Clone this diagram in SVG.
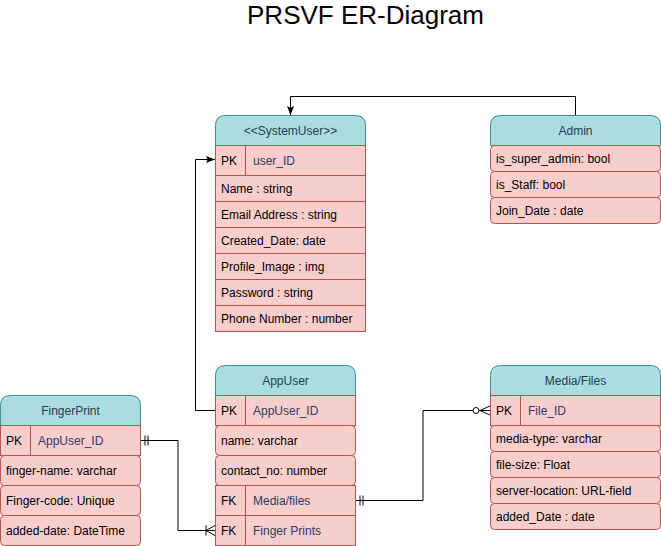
<svg xmlns="http://www.w3.org/2000/svg" width="661" height="546" viewBox="0 0 661 546">
<style>
text{font-family:"Liberation Sans",Arial,Helvetica,sans-serif;font-size:12px;fill:#000}
.title{font-size:26px;text-anchor:middle}
.hd{fill:#abdcdf;stroke:#3f8d95;stroke-width:1}
.ht{text-anchor:middle;fill:#1e3d59}
.row{fill:#f8cecc;stroke:#b85450;stroke-width:1}
.kv{fill:#2e3a66}
.div{stroke:#b85450;stroke-width:1}
.ln{fill:none;stroke:#000;stroke-width:1}
</style>
<defs>
<marker id="arrow" viewBox="0 0 10 10" refX="10" refY="5" markerWidth="9" markerHeight="9" markerUnits="userSpaceOnUse" orient="auto">
<path d="M0,1 L10,5 L0,9 L2,5 Z" fill="#000"/>
</marker>
<marker id="one" viewBox="0 0 12 12" refX="12" refY="6" markerWidth="12" markerHeight="12" markerUnits="userSpaceOnUse" orient="auto-start-reverse">
<path d="M7,1 V11 M4,1 V11" stroke="#000" stroke-width="1" fill="none"/>
</marker>
<marker id="many" viewBox="0 0 12 12" refX="12" refY="6" markerWidth="12" markerHeight="12" markerUnits="userSpaceOnUse" orient="auto-start-reverse">
<path d="M3,1 V11 M3,6 L12,1 M3,6 L12,11" stroke="#000" stroke-width="1" fill="none"/>
</marker>
<marker id="zeroMany" viewBox="0 0 20 12" refX="20" refY="6" markerWidth="20" markerHeight="12" markerUnits="userSpaceOnUse" orient="auto-start-reverse">
<circle cx="6" cy="6" r="3" fill="#fff" stroke="#000" stroke-width="1"/>
<path d="M10,6 L20,1.5 M10,6 L20,10.5" stroke="#000" stroke-width="1" fill="none"/>
</marker>
</defs>
<rect width="661" height="546" fill="#fff"/>
<text class="title" x="365.5" y="24">PRSVF ER-Diagram</text>

<g id="connectors">
<path class="ln" d="M575.5,115 V96.5 H290.5 V115" marker-end="url(#arrow)"/>
<path class="ln" d="M215,410.5 H195.5 V159.5 H215" marker-end="url(#arrow)"/>
<path class="ln" d="M140,440.5 H178 V530.5 H215" marker-start="url(#one)" marker-end="url(#many)"/>
<path class="ln" d="M355,500.5 H423 V410.5 H490" marker-start="url(#one)" marker-end="url(#zeroMany)"/>
</g>

<g id="SystemUser">
<path class="hd" d="M215.5,145.5 V125.5 Q215.5,115.5 225.5,115.5 H355.5 Q365.5,115.5 365.5,125.5 V145.5 Z"/>
<text class="ht" x="290.5" y="135">&lt;&lt;SystemUser&gt;&gt;</text>
<rect class="row" x="215.5" y="145.5" width="150" height="30"/>
<line class="div" x1="245.5" y1="145.5" x2="245.5" y2="175.5"/>
<text x="221" y="165">PK</text>
<text class="kv" x="253" y="165">user_ID</text>
<rect class="row" x="215.5" y="175.5" width="150" height="26"/>
<text x="221" y="193">Name : string</text>
<rect class="row" x="215.5" y="201.5" width="150" height="26"/>
<text x="221" y="219">Email Address : string</text>
<rect class="row" x="215.5" y="227.5" width="150" height="26"/>
<text x="221" y="245">Created_Date: date</text>
<rect class="row" x="215.5" y="253.5" width="150" height="26"/>
<text x="221" y="271">Profile_Image : img</text>
<rect class="row" x="215.5" y="279.5" width="150" height="26"/>
<text x="221" y="297">Password : string</text>
<rect class="row" x="215.5" y="305.5" width="150" height="26"/>
<text x="221" y="323">Phone Number : number</text>
</g>

<g id="Admin">
<path class="hd" d="M490.5,145.5 V125.5 Q490.5,115.5 500.5,115.5 H650.5 Q660.5,115.5 660.5,125.5 V145.5 Z"/>
<text class="ht" x="575.5" y="135">Admin</text>
<rect class="row" x="490.5" y="145.5" width="170" height="26" rx="4"/>
<text x="496" y="163">is_super_admin: bool</text>
<rect class="row" x="490.5" y="171.5" width="170" height="26" rx="4"/>
<text x="496" y="189">is_Staff: bool</text>
<rect class="row" x="490.5" y="197.5" width="170" height="26" rx="4"/>
<text x="496" y="215">Join_Date : date</text>
</g>

<g id="FingerPrint">
<path class="hd" d="M0.5,425.5 V405.5 Q0.5,395.5 10.5,395.5 H130.5 Q140.5,395.5 140.5,405.5 V425.5 Z"/>
<text class="ht" x="70.5" y="415">FingerPrint</text>
<rect class="row" x="0.5" y="425.5" width="140" height="30"/>
<line class="div" x1="30.5" y1="425.5" x2="30.5" y2="455.5"/>
<text x="6" y="445">PK</text>
<text class="kv" x="38" y="445">AppUser_ID</text>
<rect class="row" x="0.5" y="455.5" width="140" height="30" rx="4"/>
<text x="6" y="475">finger-name: varchar</text>
<rect class="row" x="0.5" y="485.5" width="140" height="30" rx="4"/>
<text x="6" y="505">Finger-code: Unique</text>
<rect class="row" x="0.5" y="515.5" width="140" height="30" rx="4"/>
<text x="6" y="535">added-date: DateTime</text>
</g>

<g id="AppUser">
<path class="hd" d="M215.5,395.5 V375.5 Q215.5,365.5 225.5,365.5 H345.5 Q355.5,365.5 355.5,375.5 V395.5 Z"/>
<text class="ht" x="285.5" y="385">AppUser</text>
<rect class="row" x="215.5" y="395.5" width="140" height="30"/>
<line class="div" x1="245.5" y1="395.5" x2="245.5" y2="425.5"/>
<text x="221" y="415">PK</text>
<text class="kv" x="253" y="415">AppUser_ID</text>
<rect class="row" x="215.5" y="425.5" width="140" height="30" rx="4"/>
<text x="221" y="445">name: varchar</text>
<rect class="row" x="215.5" y="455.5" width="140" height="30" rx="4"/>
<text x="221" y="475">contact_no: number</text>
<rect class="row" x="215.5" y="485.5" width="140" height="30"/>
<line class="div" x1="245.5" y1="485.5" x2="245.5" y2="515.5"/>
<text x="221" y="505">FK</text>
<text class="kv" x="253" y="505">Media/files</text>
<rect class="row" x="215.5" y="515.5" width="140" height="30"/>
<line class="div" x1="245.5" y1="515.5" x2="245.5" y2="545.5"/>
<text x="221" y="535">FK</text>
<text class="kv" x="253" y="535">Finger Prints</text>
</g>

<g id="MediaFiles">
<path class="hd" d="M490.5,395.5 V375.5 Q490.5,365.5 500.5,365.5 H650.5 Q660.5,365.5 660.5,375.5 V395.5 Z"/>
<text class="ht" x="575.5" y="385">Media/Files</text>
<rect class="row" x="490.5" y="395.5" width="170" height="30"/>
<line class="div" x1="520.5" y1="395.5" x2="520.5" y2="425.5"/>
<text x="496" y="415">PK</text>
<text class="kv" x="528" y="415">File_ID</text>
<rect class="row" x="490.5" y="425.5" width="170" height="26" rx="4"/>
<text x="496" y="443">media-type: varchar</text>
<rect class="row" x="490.5" y="451.5" width="170" height="26" rx="4"/>
<text x="496" y="469">file-size: Float</text>
<rect class="row" x="490.5" y="477.5" width="170" height="26" rx="4"/>
<text x="496" y="495">server-location: URL-field</text>
<rect class="row" x="490.5" y="503.5" width="170" height="26" rx="4"/>
<text x="496" y="521">added_Date : date</text>
</g>
</svg>
